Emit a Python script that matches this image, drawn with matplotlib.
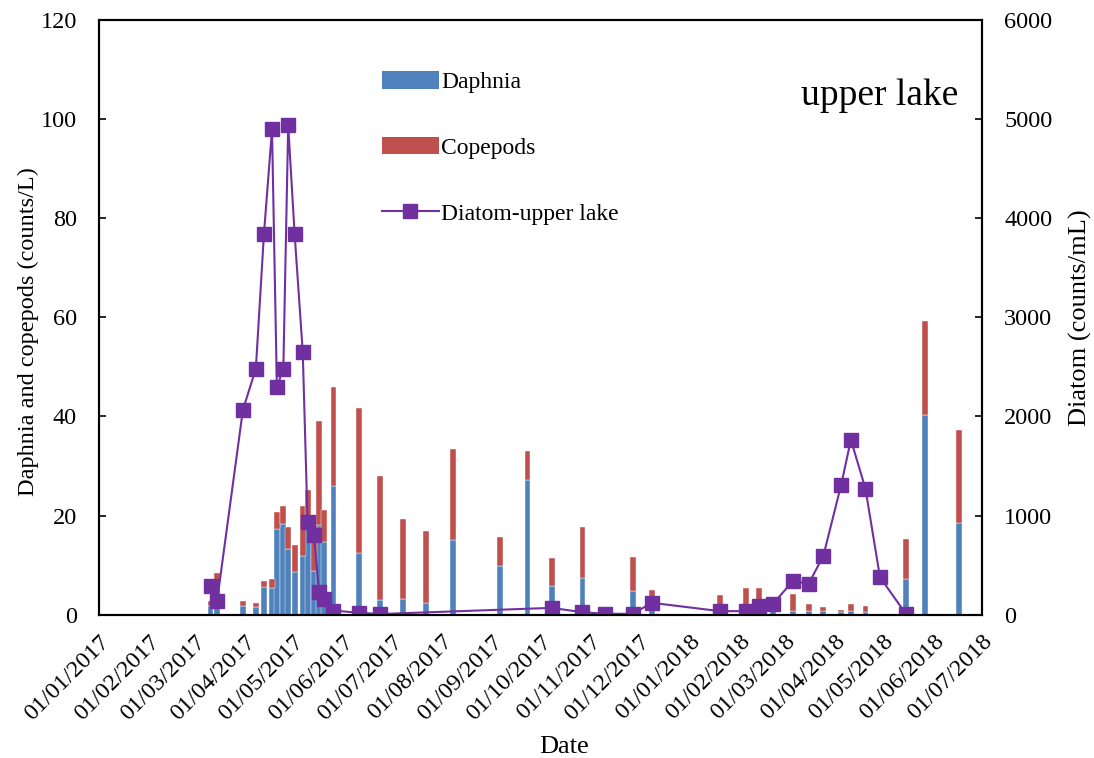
import numpy as np
import pandas as pd
import matplotlib
matplotlib.use('Agg')
from matplotlib import pyplot as plt
import matplotlib.dates as mdates
from matplotlib.lines import Line2D
from matplotlib.patches import Patch

plt.rcParams['font.family'] = ['Liberation Serif', 'DejaVu Serif']

# zooplankton sampling dates and counts (counts/L)
bar_dates = ['2017-03-11', '2017-03-15', '2017-03-31', '2017-04-08', '2017-04-13',
             '2017-04-18', '2017-04-21', '2017-04-25', '2017-04-28', '2017-05-02',
             '2017-05-07', '2017-05-10', '2017-05-14', '2017-05-17', '2017-05-20',
             '2017-05-26', '2017-06-11', '2017-06-24', '2017-07-08', '2017-07-22',
             '2017-08-08', '2017-09-06', '2017-09-23', '2017-10-08', '2017-10-27',
             '2017-11-27', '2017-12-09', '2018-01-20', '2018-02-05', '2018-02-13',
             '2018-02-22', '2018-03-06', '2018-03-16', '2018-03-25', '2018-04-05',
             '2018-04-11', '2018-04-20', '2018-05-15', '2018-05-27', '2018-06-17']
daphnia = [1.7, 2.0, 1.7, 1.5, 5.6, 5.4, 17.3, 18.2, 13.2, 8.5,
           11.8, 19.0, 8.7, 18.0, 14.6, 25.9, 12.5, 3.0, 3.2, 2.4,
           15.0, 9.9, 27.2, 5.7, 7.3, 4.7, 2.4, 0.8, 1.0, 1.5,
           1.5, 0.7, 0.7, 0.7, 0.6, 0.7, 0.6, 7.2, 40.3, 18.4]
copepods = [1.0, 6.4, 1.1, 0.9, 1.2, 1.8, 3.4, 3.7, 4.5, 5.6,
            10.1, 6.2, 9.3, 21.0, 6.6, 20.1, 29.3, 25.0, 16.0, 14.5,
            18.4, 5.8, 5.9, 5.7, 10.4, 6.9, 2.6, 3.2, 4.4, 3.9,
            2.1, 3.5, 1.5, 0.8, 0.4, 1.5, 1.1, 8.1, 19.0, 18.9]

# diatom counts (counts/mL)
diatom_dates = ['2017-03-11', '2017-03-15', '2017-03-31', '2017-04-08', '2017-04-13',
                '2017-04-18', '2017-04-21', '2017-04-25', '2017-04-28', '2017-05-02',
                '2017-05-07', '2017-05-10', '2017-05-14', '2017-05-17', '2017-05-20',
                '2017-05-26', '2017-06-11', '2017-06-24', '2017-10-08', '2017-10-27',
                '2017-11-10', '2017-11-27', '2017-12-09', '2018-01-20', '2018-02-05',
                '2018-02-13', '2018-02-22', '2018-03-06', '2018-03-16', '2018-03-25',
                '2018-04-05', '2018-04-11', '2018-04-20', '2018-04-29', '2018-05-15']
diatom = [285, 134, 2067, 2484, 3842, 4901, 2296, 2484, 4941, 3839,
          2652, 931, 807, 225, 161, 40, 17, 5, 67, 23,
          7, 7, 118, 34, 34, 91, 111, 336, 313, 595,
          1311, 1765, 1271, 376, 7]

bd = pd.to_datetime(bar_dates)
dd = pd.to_datetime(diatom_dates)
daphnia = np.array(daphnia)
copepods = np.array(copepods)

fig = plt.figure(figsize=(10.94, 7.58), dpi=100)
ax = fig.add_axes([0.0905, 0.1893, 0.807, 0.7837])

blue = '#4F81BD'
red = '#C0504D'
purple = '#7030A0'

ax.bar(bd, daphnia, width=3.6, color=blue, edgecolor='white', linewidth=0.3)
ax.bar(bd, copepods, bottom=daphnia, width=3.6, color=red, edgecolor='white', linewidth=0.3)

ax.set_xlim(pd.Timestamp('2017-01-01'), pd.Timestamp('2018-07-01'))
ax.set_ylim(0, 120)
ax.set_yticks(range(0, 121, 20))
ax.xaxis.set_major_locator(mdates.MonthLocator())
ax.xaxis.set_major_formatter(mdates.DateFormatter('%d/%m/%Y'))
for lab in ax.get_xticklabels():
    lab.set_rotation(45)
    lab.set_ha('right')
    lab.set_rotation_mode('anchor')
ax.tick_params(axis='x', length=0, labelsize=17.5, pad=12)
ax.tick_params(axis='y', direction='in', length=5, width=1.2, labelsize=17.5, pad=16)
ax.set_xlabel('Date', fontsize=19, labelpad=6)
ax.xaxis.set_label_coords(0.527, -0.205)
ax.set_ylabel('Daphnia and copepods (counts/L)', fontsize=17.5, labelpad=6)
ax.yaxis.set_label_coords(-0.068, 0.477)
for s in ax.spines.values():
    s.set_linewidth(1.5)

ax2 = ax.twinx()
ax2.plot(dd, diatom, color=purple, lw=1.5, marker='s', ms=9.5,
         markerfacecolor=purple, markeredgecolor=purple)
ax2.set_ylim(0, 6000)
ax2.set_yticks(range(0, 6001, 1000))
ax2.tick_params(axis='y', direction='in', length=5, width=1.2, labelsize=17.5, pad=16)
ax2.set_ylabel('Diatom (counts/mL)', fontsize=19, labelpad=12)
for s in ax2.spines.values():
    s.set_linewidth(1.5)

handles = [Patch(facecolor=blue), Patch(facecolor=red),
           Line2D([], [], color=purple, lw=1.5, marker='s', ms=9.5)]
labels = ['Daphnia', 'Copepods', 'Diatom-upper lake']
ax2.legend(handles, labels, loc='upper left', bbox_to_anchor=(0.31, 0.93),
           frameon=False, fontsize=17, labelspacing=1.85, handlelength=2.4,
           handleheight=0.75, handletextpad=0.1, borderaxespad=0)

ax2.text(0.973, 0.874, 'upper lake', transform=ax2.transAxes, fontsize=27,
         ha='right', va='center')

fig.savefig('out.png', dpi=100)
